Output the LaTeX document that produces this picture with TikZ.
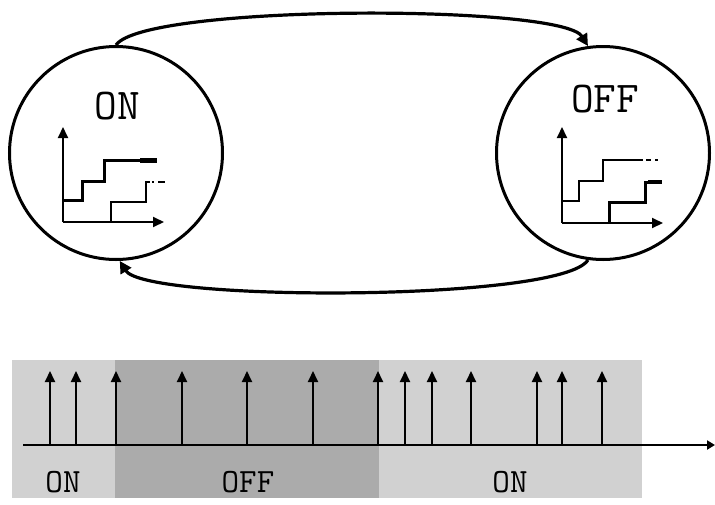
\documentclass[tikz,border=0pt]{standalone}
\usetikzlibrary{arrows.meta}
\usepackage{fontspec}
\setmonofont{Latin Modern Mono}
\begin{document}
\begin{tikzpicture}[x=1pt,y=-1pt,
  state/.style={circle,draw=black,line width=3pt,minimum size=213pt,inner sep=0pt},
  trans/.style={line width=3.2pt,-{Triangle[width=12pt,length=12pt]}},
  impulse/.style={line width=2pt,-{Triangle[width=10pt,length=11pt]}},
  timeaxis/.style={line width=2.6pt,-{Triangle[width=9pt,length=8pt]}},
  plotaxis/.style={line width=2pt,-{Triangle[width=10pt,length=11pt]}},
  thickstep/.style={line width=3pt},
  thinstep/.style={line width=1.1pt},
  lbig/.style={font=\ttfamily\fontsize{44}{44}\selectfont},
  lsmall/.style={font=\ttfamily\fontsize{34}{34}\selectfont}]
\useasboundingbox (0,0) rectangle (715,504);
% shaded bands
\fill[black!18] (12,360) rectangle (642,498);
\fill[black!33] (115,360) rectangle (379,498);
% states
\node[state] (on) at (116,153) {};
\node[state] (off) at (603,153) {};
\node[lbig] (onlab) at (117,106) {ON};
\node[lbig] (offlab) at (605,99) {OFF};
% transitions
\draw[trans] (on.90) .. controls (145,4) and (562,4) .. (off.98);
\draw[trans] (off.262) .. controls (562,302) and (145,302) .. (on.272);
% left plot
\draw[plotaxis] (63,222) -- (63,127);
\draw[plotaxis] (63,222) -- (164,222);
\draw[thickstep] (63,200) -- (82,200) -- (82,181) -- (104,181) -- (104,160) -- (141,160);
\draw[line width=5pt] (140,160) -- (157,160);
\draw[thinstep] (111,222) -- (111,202) -- (146,202) -- (146,182) -- (150,182);
\draw[thinstep] (152,182) -- (154,182);
\draw[thinstep] (158,182) -- (165,182);
% right plot
\draw[plotaxis] (562,223) -- (562,127);
\draw[plotaxis] (562,223) -- (663,223);
\draw[thinstep] (562,201) -- (579,201) -- (579,181) -- (603,181) -- (603,160) -- (643,160);
\draw[thinstep] (646,160) -- (651,160);
\draw[thinstep] (655,160) -- (658,160);
\draw[thickstep] (609,223) -- (609,202) -- (645,202) -- (645,182) -- (650,182);
\draw[line width=4pt] (648,182) -- (662,182);
% time axis
\coordinate (ax0) at (23,445);
\coordinate (ax1) at (715,445);
\draw[timeaxis] (ax0) -- (ax1);
\foreach \x [count=\i] in {50,76,116,182,247,313,378,405,432,471,537,562,602} {
  \coordinate (b\i) at (\x,445);
  \coordinate (t\i) at (\x,371);
  \draw[impulse] (b\i) -- (t\i);
}
\node[lsmall] (bon1) at (63,482) {ON};
\node[lsmall] (boff) at (248,482) {OFF};
\node[lsmall] (bon2) at (510,482) {ON};
\end{tikzpicture}
\end{document}
